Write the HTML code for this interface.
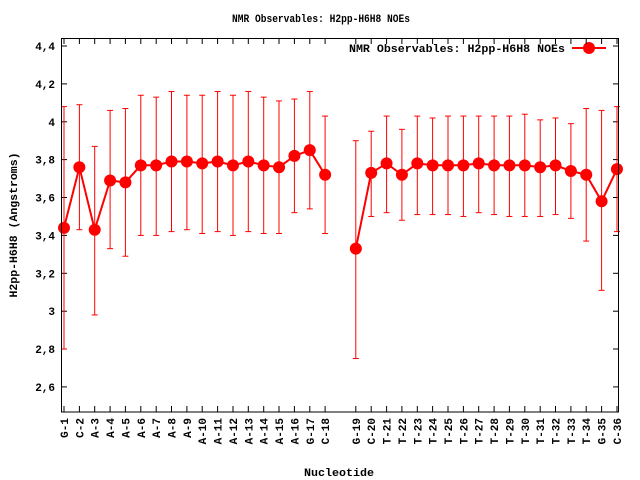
<!DOCTYPE html><html><head><style>body{margin:0;background:#fff}svg{display:block}text{font-family:"Liberation Mono","DejaVu Sans Mono",monospace;font-weight:bold;font-size:11px;fill:#000}</style></head><body>
<svg id="s" width="640" height="480" xmlns="http://www.w3.org/2000/svg">
<rect x="0" y="0" width="640" height="480" fill="#fff"/>
<text x="232" y="22" textLength="178" lengthAdjust="spacingAndGlyphs">NMR Observables: H2pp-H6H8 NOEs</text>
<text x="339" y="476" text-anchor="middle" textLength="70" lengthAdjust="spacingAndGlyphs">Nucleotide</text>
<text transform="translate(17,225) rotate(-90)" text-anchor="middle" textLength="145" lengthAdjust="spacingAndGlyphs">H2pp-H6H8 (Angstroms)</text>
<text x="565" y="52" text-anchor="end" textLength="216" lengthAdjust="spacingAndGlyphs">NMR Observables: H2pp-H6H8 NOEs</text>
<line x1="572" y1="48" x2="606" y2="48" stroke="#f00" stroke-width="2"/>
<circle cx="589" cy="48" r="6" fill="#f00"/>
<g id="g"></g>
<rect x="61.5" y="38.5" width="557" height="373.5" fill="none" stroke="#000" stroke-width="1"/>
</svg>
<script>
var d=[[3.44,2.80,4.08],[3.76,3.43,4.09],[3.43,2.98,3.87],[3.69,3.33,4.06],[3.68,3.29,4.07],[3.77,3.40,4.14],[3.77,3.40,4.13],[3.79,3.42,4.16],[3.79,3.43,4.14],[3.78,3.41,4.14],[3.79,3.42,4.16],[3.77,3.40,4.14],[3.79,3.42,4.16],[3.77,3.41,4.13],[3.76,3.41,4.11],[3.82,3.52,4.12],[3.85,3.54,4.16],[3.72,3.41,4.03],[3.33,2.75,3.90],[3.73,3.50,3.95],[3.78,3.52,4.03],[3.72,3.48,3.96],[3.78,3.51,4.03],[3.77,3.51,4.02],[3.77,3.51,4.03],[3.77,3.50,4.03],[3.78,3.52,4.03],[3.77,3.51,4.03],[3.77,3.50,4.03],[3.77,3.50,4.04],[3.76,3.50,4.01],[3.77,3.51,4.02],[3.74,3.49,3.99],[3.72,3.37,4.07],[3.58,3.11,4.06],[3.75,3.42,4.08]];
var names=["G","C","A","A","A","A","A","A","A","A","A","A","A","A","A","A","G","C","G","C","T","T","T","T","T","T","T","T","T","T","T","T","T","T","G","C"];
function X(i){return 64+(i<18?i:i+1)*15.36}
function Y(v){return 46+(4.4-v)*189.4}
var h="";
for(var v=2.6;v<4.45;v+=0.2){var y=Y(v).toFixed(1);var l=(Math.abs(v-3)<0.01)?"3":(Math.abs(v-4)<0.01)?"4":v.toFixed(1).replace(".",",");
h+='<line x1="62" y1="'+y+'" x2="67" y2="'+y+'" stroke="#000"/><line x1="613" y1="'+y+'" x2="618" y2="'+y+'" stroke="#000"/>';
h+='<text x="55" y="'+(+y+4)+'" text-anchor="end">'+l+'</text>';}
var p1="",p2="";
for(var i=0;i<36;i++){var x=X(i).toFixed(1);
h+='<line x1="'+x+'" y1="412" x2="'+x+'" y2="406" stroke="#000"/><line x1="'+x+'" y1="38" x2="'+x+'" y2="44" stroke="#000"/>';
h+='<text transform="translate('+(+x+4)+',418) rotate(-90)" text-anchor="end">'+names[i]+'-'+(i+1)+'</text>';
var a=d[i];h+='<line x1="'+x+'" y1="'+Y(a[1])+'" x2="'+x+'" y2="'+Y(a[2])+'" stroke="#f00"/>';
h+='<line x1="'+(x-3)+'" y1="'+Y(a[1])+'" x2="'+(+x+3)+'" y2="'+Y(a[1])+'" stroke="#f00"/><line x1="'+(x-3)+'" y1="'+Y(a[2])+'" x2="'+(+x+3)+'" y2="'+Y(a[2])+'" stroke="#f00"/>';
var pt=x+','+Y(a[0]).toFixed(1)+' ';if(i<18)p1+=pt;else p2+=pt;}
h+='<polyline points="'+p1+'" fill="none" stroke="#f00" stroke-width="2"/><polyline points="'+p2+'" fill="none" stroke="#f00" stroke-width="2"/>';
for(var i=0;i<36;i++)h+='<circle cx="'+X(i)+'" cy="'+Y(d[i][0])+'" r="6" fill="#f00"/>';
document.getElementById("g").innerHTML=h;
</script>
</body></html>
